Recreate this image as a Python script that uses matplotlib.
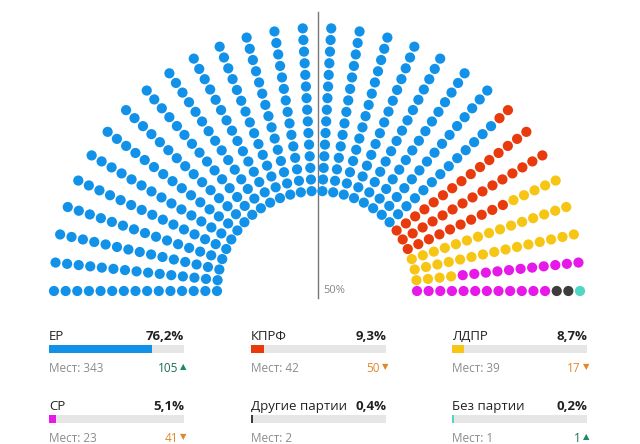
import matplotlib.pyplot as plt
import matplotlib.patches as mpatches
import numpy as np

plt.rcParams['font.family'] = ['Open Sans', 'DejaVu Sans']

parties = ['ЕР', 'КПРФ', 'ЛДПР', 'СР', 'Другие партии', 'Без партии']
seats = [343, 42, 39, 23, 2, 1]
percents = [76.2, 9.3, 8.7, 5.1, 0.4, 0.2]
changes = [105, -50, -17, -41, None, 1]
colors = ['#1192e8', '#e83a0c', '#f7c514', '#e619e8', '#3d3d3d', '#4fd6c4']

n_spokes = 30
n_rows = 15

fig = plt.figure(figsize=(6.4, 4.44), dpi=100)
ax = fig.add_axes([0, 0, 1, 1])
ax.set_xlim(0, 640)
ax.set_ylim(444, 0)
ax.axis('off')

# hemicycle: seats fill spoke by spoke, inner to outer
cx, cy = 317, 291
r_in, r_out = 100, 263
seat_colors = []
for c, n in zip(colors, seats):
    seat_colors += [c] * n
angles = np.radians(np.linspace(180, 0, n_spokes))
radii = np.linspace(r_in, r_out, n_rows)
xs, ys = [], []
for a in angles:
    for r in radii:
        xs.append(cx + r * np.cos(a))
        ys.append(cy - r * np.sin(a))
ax.scatter(xs, ys, s=54, c=seat_colors, edgecolors='none', zorder=3)

# 50% line
ax.plot([318, 318], [12, 298], color='#777777', lw=1)
ax.text(323, 290, '50%', fontsize=8, color='#888888', va='center', ha='left')

# legend blocks
col_x = [49, 251, 452]
row_y = [336, 406]
width = 135
for i, name in enumerate(parties):
    x0 = col_x[i % 3]
    y0 = row_y[i // 3]
    ax.text(x0, y0, name, fontsize=9.5, color='#222222', va='center', ha='left')
    ax.text(x0 + width, y0, f'{percents[i]:.1f}%'.replace('.', ','), fontsize=9.5,
            fontweight='bold', color='#222222', va='center', ha='right')
    ax.add_patch(mpatches.Rectangle((x0, y0 + 9), width, 8, color='#e6e6e6', lw=0))
    fill = max(width * percents[i] / 100, 1.5)
    ax.add_patch(mpatches.Rectangle((x0, y0 + 9), fill, 8, color=colors[i], lw=0))
    ax.text(x0, y0 + 32, f'Мест: {seats[i]}', fontsize=8.5, color='#8c8c8c',
            va='center', ha='left')
    ch = changes[i]
    if ch is not None:
        if ch > 0:
            num, tri, col, tcol = str(ch), '▲', '#1b6e55', '#1b8a66'
        else:
            num, tri, col, tcol = str(-ch), '▼', '#e0892a', '#e0892a'
        ax.text(x0 + width + 2, y0 + 32, tri, fontsize=6, color=tcol, va='center', ha='right')
        ax.text(x0 + width - 6, y0 + 32, num, fontsize=8.5, color=col, va='center', ha='right')

fig.savefig('out.png', dpi=100)
